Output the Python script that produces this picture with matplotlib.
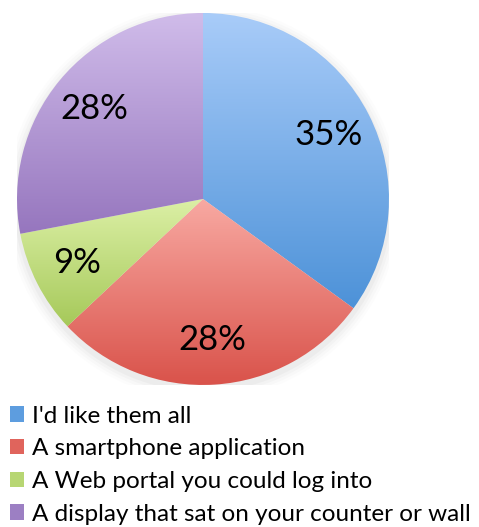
import numpy as np
import matplotlib.pyplot as plt
from matplotlib.patches import Patch, Circle
from matplotlib.colors import LinearSegmentedColormap

plt.rcParams['font.family'] = ['Lato', 'DejaVu Sans']

labels = ["I'd like them all", "A smartphone application",
          "A Web portal you could log into", "A display that sat on your counter or wall"]
values = [35, 28, 9, 28]
top_colors = ["#a9ccf9", "#f8a9a2", "#dcf0a6", "#d0bcea"]
bottom_colors = ["#4d92d8", "#d9524a", "#a6c95a", "#9676be"]
legend_colors = ["#5d9ddf", "#e0645c", "#b7d673", "#9c7fc3"]

fig = plt.figure(figsize=(4.79, 5.27), dpi=100)
ax = fig.add_axes([0.0355, 0.2695, 0.7766, 0.7059])

# soft shadow under the pie
for i, a in enumerate([0.05, 0.04, 0.03, 0.02]):
    ax.add_patch(Circle((0.0, -0.02), 1.0 + 0.015 * (i + 1), color="gray",
                        alpha=a, lw=0, zorder=0))

wedges, texts, autotexts = ax.pie(
    values, startangle=90, counterclock=False, autopct="%d%%",
    pctdistance=0.76, radius=1.0,
    wedgeprops=dict(linewidth=0, edgecolor="none"),
    textprops=dict(fontsize=25, color="black"))

for w, c0, c1 in zip(wedges, top_colors, bottom_colors):
    path = w.get_path()
    verts = w.get_transform().transform(path.vertices)
    verts = ax.transData.inverted().transform(verts)
    x0, x1 = verts[:, 0].min(), verts[:, 0].max()
    y0, y1 = verts[:, 1].min(), verts[:, 1].max()
    cmap = LinearSegmentedColormap.from_list("g", [c1, c0])
    grad = np.linspace(0, 1, 256).reshape(-1, 1)
    im = ax.imshow(grad, cmap=cmap, extent=[x0, x1, y0, y1], origin="lower",
                   aspect="auto", zorder=1, interpolation="bilinear")
    im.set_clip_path(w)
    w.set_facecolor("none")

for t in autotexts:
    t.set_zorder(3)

ax.set_xlim(-1, 1)
ax.set_ylim(-1, 1)
ax.set_aspect("equal")
ax.axis("off")

handles = [Patch(facecolor=c, edgecolor="none") for c in legend_colors]
fig.legend(handles, labels, loc="upper left", bbox_to_anchor=(-0.01, 0.258),
           frameon=False, fontsize=17.5, handlelength=0.6, handleheight=0.6,
           handletextpad=0.3, labelspacing=0.48, borderaxespad=0.2)

fig.savefig("out.png", dpi=100)
